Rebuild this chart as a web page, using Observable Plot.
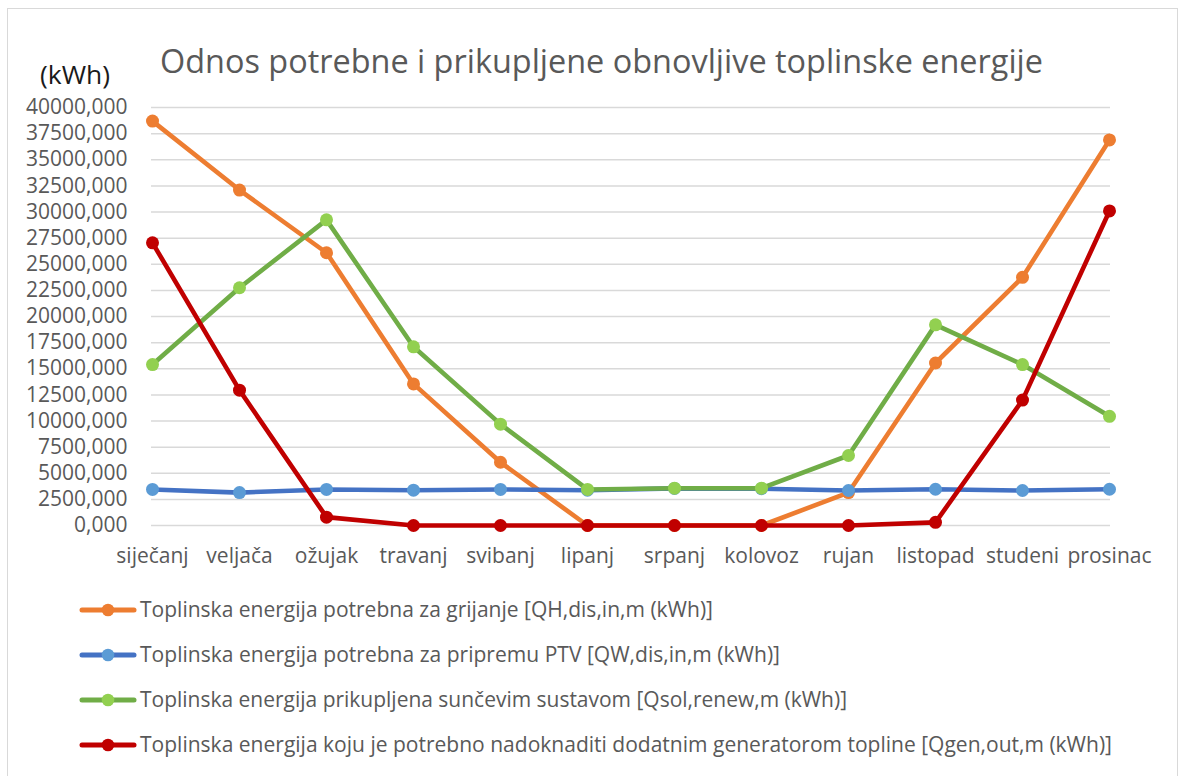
<!DOCTYPE html>
<html>
<head>
<meta charset="utf-8">
<script src="https://cdn.jsdelivr.net/npm/d3@7"></script>
<script src="https://cdn.jsdelivr.net/npm/@observablehq/plot@0.6"></script>
<style>
  html, body { margin: 0; padding: 0; background: #fff; width: 1180px; height: 776px; overflow: hidden; }
  body { position: relative; font-family: "Open Sans", sans-serif; }
  #frame { position: absolute; left: 7px; top: 8px; width: 1171px; height: 800px; border: 1px solid #d9d9d9; box-sizing: border-box; }
  #deco { position: absolute; left: 0; top: 0; }
  #chart { position: absolute; left: 0; top: 95px; }
  #legend { position: absolute; left: 0; top: 590px; }
</style>
</head>
<body>
<div id="frame"></div>
<svg id="deco" width="1180" height="95"></svg>
<div id="chart"></div>
<svg id="legend" width="1180" height="186"></svg>
<script>
// ---- data ----
const months = ["siječanj", "veljača", "ožujak", "travanj", "svibanj", "lipanj", "srpanj", "kolovoz", "rujan", "listopad", "studeni", "prosinac"];
const heating   = [38700, 32100, 26100, 13550, 6050, 0, 0, 0, 3150, 15550, 23750, 36900];
const hotWater  = [3450, 3150, 3450, 3380, 3450, 3380, 3550, 3520, 3350, 3470, 3350, 3470];
const solar     = [15400, 22750, 29250, 17100, 9700, 3450, 3570, 3570, 6700, 19200, 15400, 10450];
const auxiliary = [27050, 12950, 800, 0, 0, 0, 0, 0, 0, 300, 12000, 30100];
const yTicks = [0, 2500, 5000, 7500, 10000, 12500, 15000, 17500, 20000, 22500, 25000, 27500, 30000, 32500, 35000, 37500, 40000];
const seriesNames = [
  "Toplinska energija potrebna za grijanje [QH,dis,in,m (kWh)]",
  "Toplinska energija potrebna za pripremu PTV [QW,dis,in,m (kWh)]",
  "Toplinska energija prikupljena sunčevim sustavom [Qsol,renew,m (kWh)]",
  "Toplinska energija koju je potrebno nadoknaditi dodatnim generatorom topline [Qgen,out,m (kWh)]"
];
const titleText = "Odnos potrebne i prikupljene obnovljive toplinske energije";
const unitText = "(kWh)";

// ---- styling ----
const seriesValues = [heating, hotWater, solar, auxiliary];
const lineColors = ["#ED7D31", "#4472C4", "#70AD47", "#C00000"];
const dotColors  = ["#ED7D31", "#5B9BD5", "#92D050", "#C00000"];
const legendWidths = [573, 640, 707, 972];

const fmt = d => d.toFixed(3).replace(".", ",");

const marks = [
  Plot.gridY(yTicks, {stroke: "#d9d9d9", strokeOpacity: 1, strokeWidth: 1.5}),
  Plot.axisY(yTicks, {tickSize: 0, tickPadding: 24, tickFormat: fmt, label: null}),
  Plot.axisX({tickSize: 0, tickPadding: 23, label: null})
];
seriesValues.forEach((vals, s) => {
  const rows = months.map((m, i) => ({month: m, value: vals[i]}));
  marks.push(Plot.line(rows, {x: "month", y: "value", stroke: lineColors[s], strokeWidth: 4.6, strokeLinejoin: "round", strokeLinecap: "round"}));
  marks.push(Plot.dot(rows, {x: "month", y: "value", fill: dotColors[s], stroke: "none", r: 6.5}));
});

const plot = Plot.plot({
  width: 1180,
  height: 480,
  marginTop: 12,
  marginBottom: 50,
  marginLeft: 151,
  marginRight: 70,
  style: {fontFamily: "'Open Sans', sans-serif", fontSize: "21px", color: "#595959", background: "transparent", overflow: "visible"},
  x: {type: "point", domain: months, padding: 0},
  y: {domain: [0, 40000]},
  marks
});
document.getElementById("chart").appendChild(plot);

// ---- title and unit label ----
const deco = d3.select("#deco");
deco.append("text")
  .attr("x", 160).attr("y", 73)
  .attr("textLength", 883).attr("lengthAdjust", "spacingAndGlyphs")
  .attr("fill", "#595959")
  .style("font-family", "'Open Sans', sans-serif").style("font-size", "32px")
  .text(titleText);
deco.append("text")
  .attr("x", 40).attr("y", 84)
  .attr("textLength", 70).attr("lengthAdjust", "spacingAndGlyphs")
  .attr("fill", "#1a1a1a")
  .style("font-family", "'Open Sans', sans-serif").style("font-size", "25px")
  .text(unitText);

// ---- legend ----
const leg = d3.select("#legend");
seriesNames.forEach((name, i) => {
  const base = 27 + i * 45;   // baseline within legend svg (top 590)
  const cy = base - 7;
  const g = leg.append("g");
  g.append("line").attr("x1", 82).attr("x2", 134).attr("y1", cy).attr("y2", cy)
    .attr("stroke", lineColors[i]).attr("stroke-width", 5).attr("stroke-linecap", "round");
  g.append("circle").attr("cx", 108).attr("cy", cy).attr("r", 6.3).attr("fill", dotColors[i]);
  g.append("text").attr("x", 140).attr("y", base)
    .attr("textLength", legendWidths[i]).attr("lengthAdjust", "spacingAndGlyphs")
    .attr("fill", "#595959")
    .style("font-family", "'Open Sans', sans-serif").style("font-size", "21px")
    .text(name);
});
</script>
</body>
</html>
